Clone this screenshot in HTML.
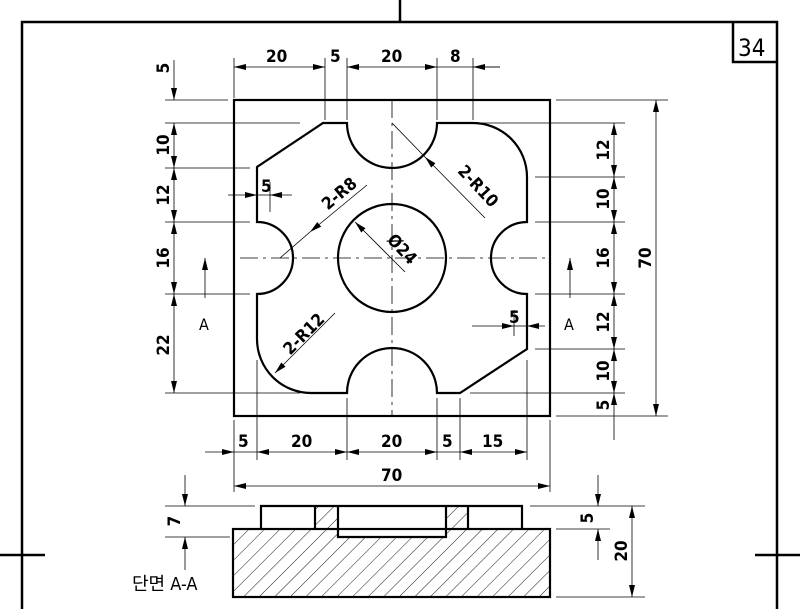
<!DOCTYPE html>
<html><head><meta charset="utf-8"><style>
html,body{margin:0;padding:0;background:#fff;}
svg{display:block;}
text{font-family:"DejaVu Sans","Liberation Sans","Noto Sans CJK KR",sans-serif;font-size:17px;font-weight:bold;fill:#000;font-stretch:condensed;}
</style></head><body>
<svg width="800" height="609" viewBox="0 0 800 609" xmlns="http://www.w3.org/2000/svg">
<defs>
<marker id="a" viewBox="0 0 12 6" refX="12" refY="3" markerWidth="12" markerHeight="6" orient="auto" markerUnits="userSpaceOnUse"><path d="M0,0 L12,3 L0,6 z" fill="#000"/></marker>
<marker id="b" viewBox="0 0 12 6" refX="0" refY="3" markerWidth="12" markerHeight="6" orient="auto" markerUnits="userSpaceOnUse"><path d="M12,0 L0,3 L12,6 z" fill="#000"/></marker>
<pattern id="h" patternUnits="userSpaceOnUse" width="11" height="11" patternTransform="rotate(45)"><line x1="0" y1="0" x2="0" y2="11" stroke="#000" stroke-width="0.9"/></pattern>
</defs>
<g stroke="#000" stroke-width="2.5" fill="none">
<path d="M22,609 V22 H777 V609"/>
<line x1="400" y1="0" x2="400" y2="22"/>
<path d="M733,22 V62 H777"/>
<line x1="0" y1="555" x2="45" y2="555"/>
<line x1="755" y1="555" x2="800" y2="555"/>
</g>
<text x="738" y="56" style="font-size:24px;font-weight:normal">34</text>
<g stroke="#000" stroke-width="0.8" fill="none">
<line x1="234" y1="58" x2="234" y2="98"/><line x1="325" y1="58" x2="325" y2="120"/><line x1="347" y1="58" x2="347" y2="120"/>
<line x1="437" y1="58" x2="437" y2="120"/><line x1="473" y1="58" x2="473" y2="120"/>
<line x1="234" y1="67" x2="325" y2="67" marker-start="url(#b)" marker-end="url(#a)"/>
<line x1="347" y1="67" x2="437" y2="67" marker-start="url(#b)" marker-end="url(#a)"/>
<line x1="437" y1="67" x2="500" y2="67"/>
<line x1="500" y1="67" x2="473" y2="67" marker-end="url(#a)"/>
<line x1="165" y1="100" x2="228" y2="100"/><line x1="165" y1="123" x2="300" y2="123"/>
<line x1="165" y1="168" x2="250" y2="168"/><line x1="165" y1="222" x2="250" y2="222"/>
<line x1="165" y1="294" x2="250" y2="294"/><line x1="165" y1="393" x2="300" y2="393"/>
<line x1="174" y1="60" x2="174" y2="100" marker-end="url(#a)"/>
<line x1="174" y1="123" x2="174" y2="168" marker-start="url(#b)" marker-end="url(#a)"/>
<line x1="174" y1="168" x2="174" y2="222" marker-start="url(#b)" marker-end="url(#a)"/>
<line x1="174" y1="222" x2="174" y2="294" marker-start="url(#b)" marker-end="url(#a)"/>
<line x1="174" y1="294" x2="174" y2="393" marker-start="url(#b)" marker-end="url(#a)"/>
<line x1="480" y1="123" x2="625" y2="123"/><line x1="535" y1="177" x2="625" y2="177"/>
<line x1="535" y1="222" x2="625" y2="222"/><line x1="535" y1="294" x2="625" y2="294"/>
<line x1="535" y1="349" x2="625" y2="349"/><line x1="470" y1="393" x2="625" y2="393"/>
<line x1="556" y1="100" x2="668" y2="100"/><line x1="556" y1="416" x2="668" y2="416"/>
<line x1="614" y1="123" x2="614" y2="177" marker-start="url(#b)" marker-end="url(#a)"/>
<line x1="614" y1="177" x2="614" y2="222" marker-start="url(#b)" marker-end="url(#a)"/>
<line x1="614" y1="222" x2="614" y2="294" marker-start="url(#b)" marker-end="url(#a)"/>
<line x1="614" y1="294" x2="614" y2="349" marker-start="url(#b)" marker-end="url(#a)"/>
<line x1="614" y1="349" x2="614" y2="393" marker-start="url(#b)" marker-end="url(#a)"/>
<line x1="614" y1="440" x2="614" y2="393" marker-end="url(#a)"/>
<line x1="656" y1="100" x2="656" y2="416" marker-start="url(#b)" marker-end="url(#a)"/>
<line x1="234" y1="420" x2="234" y2="492"/><line x1="550" y1="420" x2="550" y2="492"/>
<line x1="257" y1="360" x2="257" y2="460"/><line x1="347" y1="398" x2="347" y2="460"/>
<line x1="437" y1="398" x2="437" y2="460"/><line x1="460" y1="398" x2="460" y2="460"/>
<line x1="527" y1="360" x2="527" y2="460"/>
<line x1="234" y1="452" x2="257" y2="452"/>
<line x1="205" y1="452" x2="234" y2="452" marker-end="url(#a)"/>
<line x1="257" y1="452" x2="347" y2="452" marker-start="url(#b)" marker-end="url(#a)"/>
<line x1="347" y1="452" x2="437" y2="452" marker-start="url(#b)" marker-end="url(#a)"/>
<line x1="437" y1="452" x2="460" y2="452"/>
<line x1="460" y1="452" x2="527" y2="452" marker-start="url(#b)" marker-end="url(#a)"/>
<line x1="234" y1="486" x2="550" y2="486" marker-start="url(#b)" marker-end="url(#a)"/>
<line x1="228" y1="195" x2="257" y2="195" marker-end="url(#a)"/>
<line x1="292" y1="195" x2="270" y2="195" marker-end="url(#a)"/>
<line x1="270" y1="182" x2="270" y2="212"/><line x1="257" y1="195" x2="270" y2="195"/>
<line x1="472" y1="326" x2="514" y2="326" marker-end="url(#a)"/>
<line x1="545" y1="326" x2="527" y2="326" marker-end="url(#a)"/>
<line x1="514" y1="310" x2="514" y2="336"/><line x1="514" y1="326" x2="527" y2="326"/>
<line x1="392" y1="100" x2="392" y2="416" stroke-dasharray="18,5,3,5"/>
<line x1="240" y1="258" x2="545" y2="258" stroke-dasharray="18,5,3,5"/>
<line x1="392" y1="123" x2="425" y2="157"/>
<line x1="485" y1="218" x2="425" y2="157" marker-end="url(#a)"/>
<line x1="280" y1="258" x2="310" y2="232"/>
<line x1="367" y1="185" x2="310" y2="232" marker-end="url(#a)"/>
<line x1="335" y1="313" x2="275" y2="373" marker-end="url(#a)"/>
<line x1="405" y1="272" x2="355" y2="222" marker-end="url(#a)"/>
<line x1="205" y1="298" x2="205" y2="258" marker-end="url(#a)"/>
<line x1="570" y1="298" x2="570" y2="258" marker-end="url(#a)"/>
<line x1="165" y1="506" x2="255" y2="506"/><line x1="165" y1="537" x2="230" y2="537"/>
<line x1="185" y1="475" x2="185" y2="506" marker-end="url(#a)"/>
<line x1="185" y1="570" x2="185" y2="537" marker-end="url(#a)"/>
<line x1="530" y1="506" x2="645" y2="506"/><line x1="556" y1="529" x2="610" y2="529"/>
<line x1="556" y1="597" x2="645" y2="597"/>
<line x1="598" y1="475" x2="598" y2="506" marker-end="url(#a)"/>
<line x1="598" y1="560" x2="598" y2="529" marker-end="url(#a)"/>
<line x1="632" y1="506" x2="632" y2="597" marker-start="url(#b)" marker-end="url(#a)"/>
</g>
<g stroke="#000" stroke-width="2.2" fill="none">
<rect x="234" y="100" width="316" height="316"/>
<path d="M323,123 H347 A45,45 0 0 0 437,123 H473 A54,54 0 0 1 527,177 V222 A36,36 0 0 0 527,294 V349 L460,393 H437 A45,45 0 0 0 347,393 H311 A54,54 0 0 1 257,339 V294 A36,36 0 0 0 257,222 V167 Z"/>
<circle cx="392" cy="258" r="54"/>
</g>
<path d="M233,597 V529 H315 V506 H338 V537 H446 V506 H468 V529 H550 V597 Z" fill="url(#h)" stroke="none"/>
<g stroke="#000" stroke-width="2.2" fill="none">
<rect x="233" y="529" width="317" height="68"/>
<path d="M261,529 V506 H522 V529"/>
<line x1="315" y1="506" x2="315" y2="529"/><line x1="468" y1="506" x2="468" y2="529"/>
<path d="M338,506 V537 H446 V506"/>
</g>
<text x="266" y="62">20</text><text x="330" y="62">5</text><text x="381" y="62">20</text><text x="450" y="62">8</text>
<text x="238" y="447">5</text><text x="291" y="447">20</text><text x="381" y="447">20</text><text x="442" y="447">5</text><text x="482" y="447">15</text>
<text x="381" y="481">70</text>
<text x="261" y="192">5</text><text x="509" y="323">5</text>
<g>
<text transform="translate(169,68) rotate(-90)" text-anchor="middle">5</text>
<text transform="translate(169,145) rotate(-90)" text-anchor="middle">10</text>
<text transform="translate(169,195) rotate(-90)" text-anchor="middle">12</text>
<text transform="translate(169,258) rotate(-90)" text-anchor="middle">16</text>
<text transform="translate(169,345) rotate(-90)" text-anchor="middle">22</text>
<text transform="translate(609,150) rotate(-90)" text-anchor="middle">12</text>
<text transform="translate(609,199) rotate(-90)" text-anchor="middle">10</text>
<text transform="translate(609,258) rotate(-90)" text-anchor="middle">16</text>
<text transform="translate(609,322) rotate(-90)" text-anchor="middle">12</text>
<text transform="translate(609,371) rotate(-90)" text-anchor="middle">10</text>
<text transform="translate(609,405) rotate(-90)" text-anchor="middle">5</text>
<text transform="translate(651,258) rotate(-90)" text-anchor="middle">70</text>
<text transform="translate(180,521) rotate(-90)" text-anchor="middle">7</text>
<text transform="translate(593,518) rotate(-90)" text-anchor="middle">5</text>
<text transform="translate(627,551) rotate(-90)" text-anchor="middle">20</text>
<text transform="translate(343,198) rotate(-40)" text-anchor="middle">2-R8</text>
<text transform="translate(474,190) rotate(47)" text-anchor="middle">2-R10</text>
<text transform="translate(308,338) rotate(-45)" text-anchor="middle">2-R12</text>
<text transform="translate(398,253) rotate(47)" text-anchor="middle">Ø24</text>
</g>
<text x="199" y="330" style="font-size:16px;font-weight:normal">A</text>
<text x="564" y="330" style="font-size:16px;font-weight:normal">A</text>
<text x="132" y="590" style="font-size:18px;font-weight:normal">단면 A-A</text>
</svg>
</body></html>
